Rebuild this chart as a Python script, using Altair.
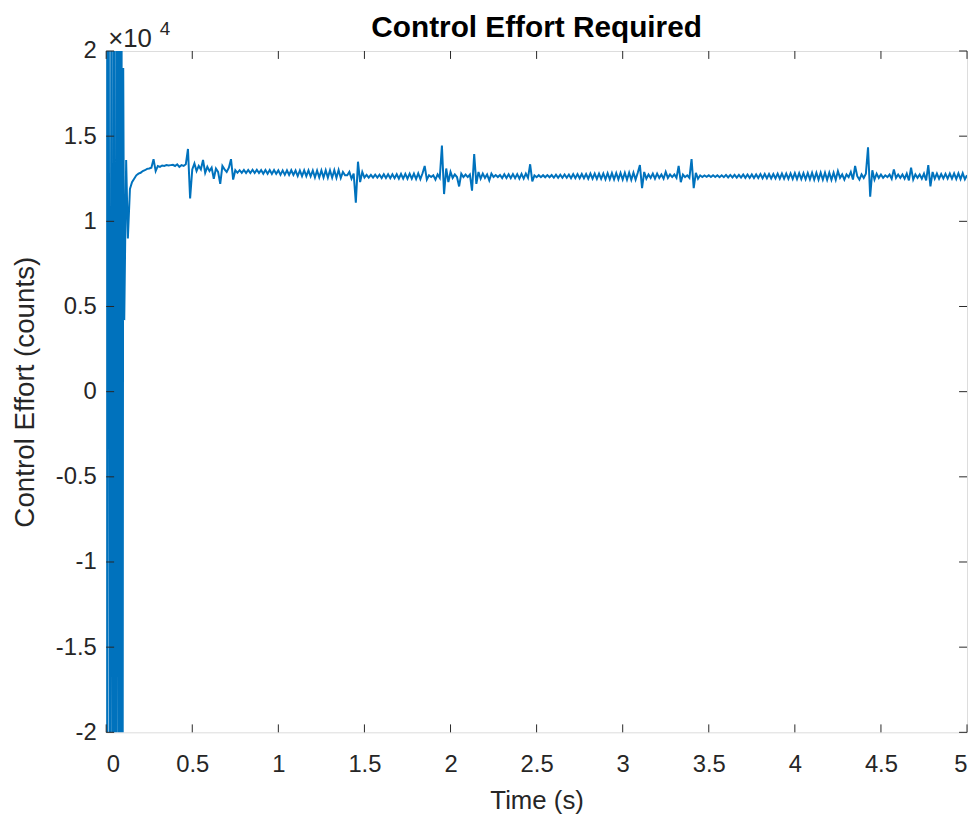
import altair as alt
import pandas as pd

# ---- data -------------------------------------------------------------
# initial transient (s, counts) - swings far outside the axis limits
T_START_PART = [0.000, 0.004, 0.010, 0.022, 0.031, 0.040, 0.047, 0.054, 0.063,
                0.072, 0.078, 0.083, 0.088, 0.093, 0.099, 0.105, 0.116, 0.126,
                0.138, 0.150, 0.1625, 0.175, 0.1875]
V_START_PART = [60000, -60000, 60000, -30000, 30000, -60000, 60000, -60000, 30000,
                -30000, 60000, -60000, 60000, -60000, 19000, 4200, 13600, 9000,
                11900, 12300, 12500, 12700, 12800]

# steady part, sampled every 0.0125 s from 0.2 s to 5.0 s
SAMPLE_T0 = 0.2
SAMPLE_DT = 0.0125
V_STEADY = [
    12850, 12950, 13000, 13080, 13100, 13150, 13650, 12950,   # 0.2
    13250, 13200, 13280, 13250, 13300, 13280, 13300, 13320,   # 0.3
    13250, 13350, 13200, 13300, 13250, 13350, 14250, 11350,   # 0.4
    13050, 13400, 12950, 13250, 13050, 13600, 12850, 13200,   # 0.5
    12950, 13150, 12500, 13100, 12900, 12200, 13250, 13050,   # 0.6
    12900, 13150, 13650, 12450, 13000, 12850, 13000, 12850,   # 0.7
    13020, 12840, 13020, 12840, 13025, 12835, 13025, 12835,   # 0.8
    13010, 12790, 13010, 12790, 13015, 12785, 13015, 12785,   # 0.9
    12990, 12730, 12990, 12730, 12995, 12725, 13000, 12720,   # 1.0
    12980, 12660, 12985, 12655, 12990, 12650, 12995, 12645,   # 1.1
    12980, 12580, 12985, 12575, 12990, 12570, 12995, 12565,   # 1.2
    13000, 12560, 13005, 12555, 13010, 12550, 12900, 12700,   # 1.3
    12700, 12900, 12500, 12800, 11100, 13500, 12300, 12900,   # 1.4
    12570, 12730, 12570, 12730, 12565, 12735, 12565, 12735,   # 1.5
    12540, 12760, 12540, 12760, 12535, 12765, 12535, 12765,   # 1.6
    12510, 12790, 12510, 12790, 12505, 12795, 12500, 12800,   # 1.7
    12480, 12820, 12480, 12820, 13250, 12450, 12700, 12600,   # 1.8
    12700, 12450, 12750, 12550, 14450, 11600, 13100, 12300,   # 1.9
    12900, 12550, 12750, 12600, 12050, 12800, 12600, 12750,   # 2.0
    12600, 12750, 11800, 13950, 12200, 12900, 12500, 12800,   # 2.1
    12550, 12750, 12400, 12800, 12600, 12720, 12600, 12720,   # 2.2
    12540, 12760, 12540, 12760, 12530, 12770, 12530, 12770,   # 2.3
    12510, 12790, 12510, 12800, 12550, 13350, 12350, 12700,   # 2.4
    12590, 12710, 12590, 12710, 12585, 12715, 12585, 12715,   # 2.5
    12560, 12740, 12560, 12740, 12555, 12745, 12555, 12745,   # 2.6
    12530, 12770, 12530, 12770, 12525, 12775, 12525, 12775,   # 2.7
    12500, 12800, 12500, 12800, 12495, 12805, 12490, 12810,   # 2.8
    12470, 12830, 12470, 12830, 12465, 12835, 12460, 12840,   # 2.9
    12450, 12850, 12445, 12855, 12440, 12860, 12450, 12850,   # 3.0
    13300, 11950, 12900, 12500, 12750, 12550, 12800, 12500,   # 3.1
    12800, 12550, 12750, 12500, 12900, 12550, 12750, 12600,   # 3.2
    12750, 12550, 13250, 12300, 12750, 12600, 12700, 12550,   # 3.3
    13650, 11950, 12850, 12500, 12700, 12600, 12690, 12610,   # 3.4
    12700, 12600, 12700, 12600, 12705, 12595, 12705, 12595,   # 3.5
    12725, 12575, 12725, 12575, 12730, 12570, 12730, 12570,   # 3.6
    12750, 12550, 12750, 12550, 12755, 12545, 12755, 12545,   # 3.7
    12775, 12525, 12775, 12525, 12780, 12520, 12780, 12520,   # 3.8
    12800, 12500, 12800, 12500, 12805, 12495, 12810, 12490,   # 3.9
    12825, 12475, 12825, 12475, 12830, 12470, 12835, 12465,   # 4.0
    12850, 12450, 12850, 12450, 12855, 12445, 12860, 12440,   # 4.1
    12860, 12440, 12860, 12440, 12950, 12550, 12750, 12450,   # 4.2
    12750, 12600, 12900, 12450, 13250, 12650, 12450, 12750,   # 4.3
    12550, 12800, 14350, 11450, 13000, 12450, 12800, 12550,   # 4.4
    12750, 12550, 12700, 12600, 12750, 12500, 13050, 12550,   # 4.5
    12750, 12550, 12750, 12500, 12800, 12400, 13150, 12450,   # 4.6
    12750, 12550, 12750, 12500, 12800, 12400, 13300, 12050,   # 4.7
    12900, 12500, 12800, 12500, 12780, 12520, 12790, 12510,   # 4.8
    12800, 12500, 12810, 12490, 12820, 12480, 12830, 12470,   # 4.9
    12700,                                                    # 5.0
]

X_TICKS = [0, 0.5, 1, 1.5, 2, 2.5, 3, 3.5, 4, 4.5, 5]
Y_TICKS = [-20000, -15000, -10000, -5000, 0, 5000, 10000, 15000, 20000]

TITLE = "Control Effort Required"
X_TITLE = "Time (s)"
Y_TITLE = "Control Effort (counts)"
EXP_BASE = "×10"
EXP_POWER = "4"

# ---- build table ------------------------------------------------------
times = list(T_START_PART) + [round(SAMPLE_T0 + i * SAMPLE_DT, 4) for i in range(len(V_STEADY))]
vals = list(V_START_PART) + list(V_STEADY)
df = pd.DataFrame({"t": times, "v": vals, "order": range(len(times))})

W, H = 868, 687
FONT = "Liberation Sans"
AX = "#262626"
BLUE = "#0072BD"

xscale = alt.Scale(domain=[0, 5], nice=False, zero=False)
yscale = alt.Scale(domain=[-20000, 20000], nice=False, zero=False)

xaxis = alt.Axis(
    values=X_TICKS, labelExpr="'' + datum.value", title=X_TITLE,
    grid=False, ticks=False, domain=False,
    labelFont=FONT, labelFontSize=24, labelColor=AX, labelPadding=20,
    titleFont=FONT, titleFontSize=26, titleFontWeight="normal", titleColor=AX,
    titlePadding=12)
yaxis = alt.Axis(
    values=Y_TICKS, labelExpr="'' + (datum.value / 10000)", title=Y_TITLE,
    grid=False, ticks=False, domain=False,
    labelFont=FONT, labelFontSize=24, labelColor=AX, labelPadding=10,
    titleFont=FONT, titleFontSize=28, titleFontWeight="normal", titleColor=AX,
    titlePadding=16)

line = alt.Chart(df).mark_line(color=BLUE, strokeWidth=2, clip=True).encode(
    x=alt.X("t:Q", scale=xscale, axis=xaxis),
    y=alt.Y("v:Q", scale=yscale, axis=yaxis),
    order="order:Q",
)

xt = pd.DataFrame({"t": X_TICKS})
yt = pd.DataFrame({"v": Y_TICKS})
TL = 8
bottom_ticks = alt.Chart(xt).mark_rule(color=AX, strokeWidth=1).encode(
    x=alt.X("t:Q", scale=xscale, axis=xaxis), y=alt.value(H), y2=alt.value(H - TL))
top_ticks = alt.Chart(xt).mark_rule(color=AX, strokeWidth=1).encode(
    x=alt.X("t:Q", scale=xscale, axis=xaxis), y=alt.value(0), y2=alt.value(TL))
left_ticks = alt.Chart(yt).mark_rule(color=AX, strokeWidth=1).encode(
    y=alt.Y("v:Q", scale=yscale, axis=yaxis), x=alt.value(0), x2=alt.value(TL))
right_ticks = alt.Chart(yt).mark_rule(color=AX, strokeWidth=1).encode(
    y=alt.Y("v:Q", scale=yscale, axis=yaxis), x=alt.value(W), x2=alt.value(W - TL))

one = pd.DataFrame({"k": [0]})
exp_base = alt.Chart(one).mark_text(
    font=FONT, fontSize=26, color=AX, align="left", baseline="alphabetic").encode(
    x=alt.value(2), y=alt.value(-4), text=alt.value(EXP_BASE))
exp_pow = alt.Chart(one).mark_text(
    font=FONT, fontSize=19, color=AX, align="left", baseline="alphabetic").encode(
    x=alt.value(54), y=alt.value(-16), text=alt.value(EXP_POWER))
title_text = alt.Chart(one).mark_text(
    font=FONT, fontSize=30, fontWeight="bold", color="#000000", align="center",
    baseline="alphabetic").encode(
    x=alt.value(W / 2), y=alt.value(-14), text=alt.value(TITLE))

chart = alt.layer(line, bottom_ticks, top_ticks, left_ticks, right_ticks,
                  exp_base, exp_pow, title_text).properties(
    width=W, height=H,
    autosize=alt.AutoSizeParams(type="none"),
    padding={"left": 99, "top": 40, "right": 3, "bottom": 80},
).configure_view(stroke=AX, strokeWidth=1.2).configure(background="white")

chart.save("out.html", embed_options={"renderer": "svg", "actions": False})
